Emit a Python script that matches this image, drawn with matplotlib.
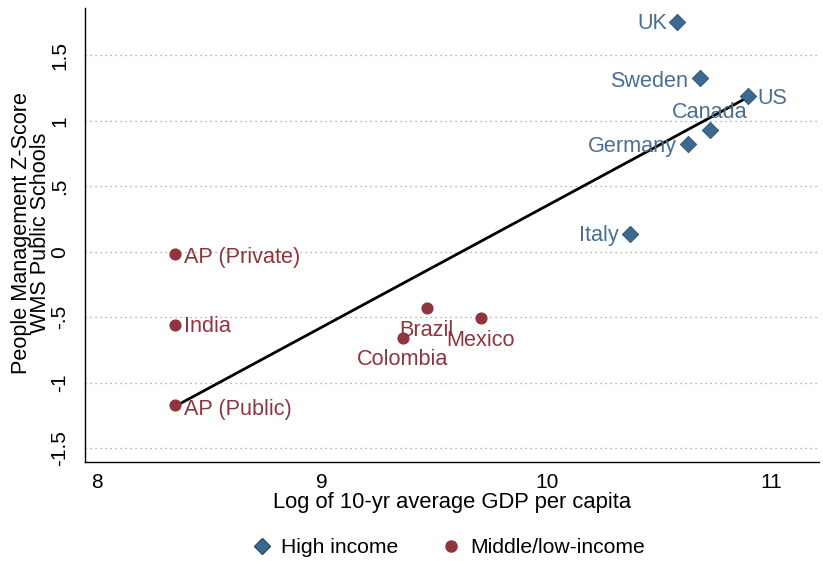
import matplotlib
matplotlib.use("Agg")
import matplotlib.pyplot as plt
from matplotlib.lines import Line2D

# High-income countries
high_names = ["UK", "Sweden", "US", "Canada", "Germany", "Italy"]
high_gdp = [10.578, 10.68, 10.893, 10.724, 10.627, 10.369]
high_score = [1.756, 1.328, 1.191, 0.931, 0.824, 0.137]

# Middle/low-income
low_names = ["AP (Private)", "India", "AP (Public)", "Brazil", "Mexico", "Colombia"]
low_gdp = [8.347, 8.347, 8.347, 9.467, 9.707, 9.36]
low_score = [-0.015, -0.557, -1.168, -0.427, -0.504, -0.656]

# fitted line endpoints
fit_x = [8.347, 10.893]
fit_y = [-1.18, 1.178]

yticks = [-1.5, -1, -0.5, 0, 0.5, 1, 1.5]
ytick_labels = ["-1.5", "-1", "-.5", "0", ".5", "1", "1.5"]
xticks = [8, 9, 10, 11]

BLUE = "#3d6891"
BLUE_TXT = "#4b6f93"
RED = "#8f353d"

# label placement: (dx, dy) offset in points, ha, va
high_pos = {
    "UK": (-7, -1.5, "right", "center"),
    "Sweden": (-8, -2.5, "right", "center"),
    "US": (7, -2, "left", "center"),
    "Canada": (0, 12.5, "center", "center"),
    "Germany": (-8, -2, "right", "center"),
    "Italy": (-8, -1.5, "right", "center"),
}
low_pos = {
    "AP (Private)": (7, -3, "left", "center"),
    "India": (7, -1.5, "left", "center"),
    "AP (Public)": (7, -3, "left", "center"),
    "Brazil": (0, -16, "center", "center"),
    "Mexico": (0, -16.5, "center", "center"),
    "Colombia": (0, -15.5, "center", "center"),
}

plt.rcParams["font.family"] = ["Liberation Sans", "DejaVu Sans"]

fig = plt.figure(figsize=(8.23, 5.61), dpi=100)
ax = fig.add_axes([0.103, 0.1765, 0.892, 0.81])

for y in yticks:
    ax.axhline(y, color="#999999", linestyle=(0, (1, 3)), linewidth=0.9, zorder=0)

ax.plot(fit_x, fit_y, color="black", linewidth=2, zorder=2)

ax.scatter(high_gdp, high_score, marker="D", s=70, color=BLUE,
           edgecolor="#2a4f72", linewidth=0.6, zorder=3)
ax.scatter(low_gdp, low_score, marker="o", s=60, color=RED, zorder=3)

for n, x, y in zip(high_names, high_gdp, high_score):
    dx, dy, ha, va = high_pos[n]
    ax.annotate(n, (x, y), xytext=(dx, dy), textcoords="offset points",
                ha=ha, va=va, fontsize=15.6, color=BLUE_TXT, zorder=4)
for n, x, y in zip(low_names, low_gdp, low_score):
    dx, dy, ha, va = low_pos[n]
    ax.annotate(n, (x, y), xytext=(dx, dy), textcoords="offset points",
                ha=ha, va=va, fontsize=15.6, color=RED, zorder=4)

ax.set_xlim(7.947, 11.21)
ax.set_ylim(-1.603, 1.863)
ax.set_xticks(xticks)
ax.set_xticklabels([str(t) for t in xticks], fontsize=15)
ax.set_yticks(yticks)
ax.set_yticklabels(ytick_labels, fontsize=15, rotation=90, va="center")
ax.tick_params(axis="both", length=0)
ax.tick_params(axis="x", pad=8)
ax.tick_params(axis="y", pad=11)

ax.spines["top"].set_visible(False)
ax.spines["right"].set_visible(False)
ax.spines["left"].set_linewidth(1.0)
ax.spines["bottom"].set_linewidth(1.0)

ax.set_xlabel("Log of 10-yr average GDP per capita", fontsize=15.8, labelpad=0)
ax.set_ylabel("People Management Z-Score\nWMS Public Schools", fontsize=15.6,
              linespacing=0.88)
ax.yaxis.set_label_coords(-0.046, 0.505)

handles = [
    Line2D([], [], marker="D", linestyle="none", color=BLUE,
           markeredgecolor="#2a4f72", markersize=8),
    Line2D([], [], marker="o", linestyle="none", color=RED, markersize=8),
]
fig.legend(handles, ["High income", "Middle/low-income"], loc="center",
           bbox_to_anchor=(0.545, 0.024), ncol=2, frameon=False, fontsize=15.2,
           handlelength=1.0, handletextpad=0.4, columnspacing=2.0)

fig.savefig("out.png", dpi=100)
